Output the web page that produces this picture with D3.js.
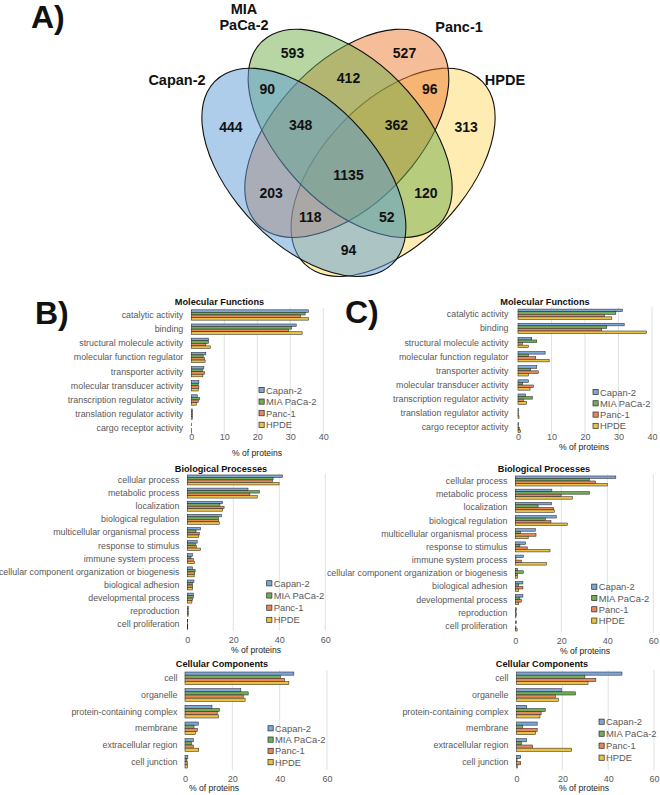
<!DOCTYPE html>
<html><head><meta charset="utf-8">
<script src="https://cdn.jsdelivr.net/npm/d3@7"></script>
<style>
body{margin:0;background:#fff;}
svg{display:block;font-family:"Liberation Sans",Arial,Helvetica,sans-serif;}
</style>
</head><body>
<script>
// ---------------- DATA ----------------
const seriesNames = ["Capan-2", "MIA PaCa-2", "Panc-1", "HPDE"];

// Venn: region keys are membership flags in the order of seriesNames
const vennKeys   = ["1000","0100","0010","0001","1100","0110","0011","1010","0101","1001","1110","0111","1011","1101","1111"];
const vennCounts = [444, 593, 527, 313, 90, 412, 96, 203, 120, 94, 348, 362, 118, 52, 1135];

const mfCats = ["catalytic activity","binding","structural molecule activity","molecular function regulator","transporter activity","molecular transducer activity","transcription regulator activity","translation regulator activity","cargo receptor activity"];
const bpCats = ["cellular process","metabolic process","localization","biological regulation","multicellular organismal process","response to stimulus","immune system process","cellular component organization or biogenesis","biological adhesion","developmental process","reproduction","cell proliferation"];
const ccCats = ["cell","organelle","protein-containing complex","membrane","extracellular region","cell junction"];

// Panel B values (% of proteins), one array per series
const mfB_capan = [35.5, 31.8, 5.2, 4.4, 3.8, 2.3, 1.8, 0.3, 0.1];
const mfB_mia   = [34.5, 30.4, 5.2, 3.6, 3.4, 2.1, 2.5, 0.3, 0.0];
const mfB_panc  = [33.1, 29.5, 4.4, 4.0, 4.0, 2.3, 2.1, 0.3, 0.1];
const mfB_hpde  = [35.5, 33.6, 5.8, 4.2, 3.5, 2.1, 1.5, 0.3, 0.1];

const bpB_capan = [41.4, 26.4, 15.4, 14.8, 5.8, 4.3, 2.3, 2.3, 2.9, 2.6, 0.4, 0.2];
const bpB_mia   = [37.3, 31.3, 14.2, 13.6, 3.8, 3.6, 1.6, 3.4, 2.2, 2.6, 0.4, 0.1];
const bpB_panc  = [37.0, 27.2, 16.0, 13.6, 5.2, 3.9, 2.6, 3.2, 2.3, 2.3, 0.4, 0.2];
const bpB_hpde  = [39.9, 30.4, 15.4, 13.9, 5.0, 5.8, 3.2, 3.0, 2.3, 2.0, 0.4, 0.2];

const ccB_capan = [46.0, 23.6, 11.4, 5.6, 3.5, 1.2];
const ccB_mia   = [40.3, 26.7, 14.5, 3.8, 2.7, 0.8];
const ccB_panc  = [42.1, 24.6, 13.6, 5.2, 3.5, 1.0];
const ccB_hpde  = [43.9, 25.4, 14.2, 4.4, 5.8, 1.0];

// Panel C values
const mfC_capan = [31.2, 31.7, 4.1, 8.1, 5.6, 3.1, 2.3, 0.2, 0.2];
const mfC_mia   = [29.2, 26.5, 5.6, 3.1, 3.8, 1.4, 4.3, 0.1, 0.1];
const mfC_panc  = [25.8, 25.0, 1.3, 5.3, 6.1, 4.6, 1.6, 0.2, 0.4];
const mfC_hpde  = [28.0, 38.3, 3.1, 9.3, 3.1, 3.6, 2.6, 0.3, 0.8];

const bpC_capan = [43.7, 15.9, 15.8, 17.8, 8.7, 4.5, 3.5, 1.0, 3.3, 3.3, 0.5, 0.5];
const bpC_mia   = [32.2, 32.2, 9.9, 13.1, 2.3, 2.0, 0.3, 3.5, 1.5, 2.0, 0.3, 0.0];
const bpC_panc  = [34.9, 19.9, 16.7, 15.5, 9.0, 5.2, 2.7, 1.0, 3.3, 2.6, 0.5, 0.3];
const bpC_hpde  = [40.0, 24.8, 17.0, 22.6, 5.6, 15.1, 13.6, 1.0, 1.5, 1.5, 0.3, 0.8];

const ccC_capan = [46.0, 19.6, 4.4, 9.0, 4.4, 1.8];
const ccC_mia   = [29.8, 25.7, 12.5, 2.7, 2.2, 0.2];
const ccC_panc  = [34.6, 16.9, 10.7, 9.0, 7.0, 1.8];
const ccC_hpde  = [31.2, 18.3, 10.2, 8.3, 24.0, 0.3];

const mfTicks = [0, 10, 20, 30, 40];
const bpTicks = [0, 20, 40, 60];
const ccTicks = [0, 20, 40, 60];
const panelTitles = ["Molecular Functions", "Biological Processes", "Cellular Components"];
const axisTitle = "% of proteins";

// ---------------- STYLE ----------------
const vennFill = ["#5B9BD5", "#70AD47", "#ED7D31", "#FFD966"];
const barFill  = ["#7EA6D6", "#6FAE57", "#E8875A", "#E9C144"];
const gray = "#595959";

const W = 660, H = 795;
const svg = d3.select("body").append("svg").attr("width", W).attr("height", H);

// ---------------- VENN ----------------
const sx = 1 / 2.376, sy = 1 / 3;
const ellA = 350, ellB = 184;
const ell = [
  {cx: 722, cy: 517, rot: 58},   // Capan-2
  {cx: 832, cy: 400, rot: 58},   // MIA PaCa-2
  {cx: 824, cy: 400, rot: -58},  // Panc-1
  {cx: 934, cy: 517, rot: -58}   // HPDE
];
const vg = svg.append("g").attr("transform", `scale(${sx},${sy})`);
[3, 2, 1, 0].forEach(i => {
  const e = ell[i];
  vg.append("ellipse")
    .attr("rx", ellA).attr("ry", ellB)
    .attr("transform", `translate(${e.cx},${e.cy}) rotate(${e.rot})`)
    .attr("fill", vennFill[i]).attr("fill-opacity", 0.5)
    .attr("stroke", "#111").attr("stroke-width", 1.1)
    .attr("vector-effect", "non-scaling-stroke");
});

function inside(i, px, py) {
  const e = ell[i];
  const X = px / sx, Y = py / sy;
  const t = e.rot * Math.PI / 180;
  const dx = X - e.cx, dy = Y - e.cy;
  const u = dx * Math.cos(t) + dy * Math.sin(t);
  const v = -dx * Math.sin(t) + dy * Math.cos(t);
  return (u * u) / (ellA * ellA) + (v * v) / (ellB * ellB) <= 1;
}
// label positions: pole of inaccessibility of each region (grid distance transform)
const gx0 = 150, gy0 = 0, GW = 400, GH = 300;
const maskGrid = new Array(GW * GH);
for (let j = 0; j < GH; j++) for (let i = 0; i < GW; i++) {
  const px = gx0 + i + 0.5, py = gy0 + j + 0.5;
  maskGrid[j * GW + i] = [0,1,2,3].map(k => inside(k, px, py) ? "1" : "0").join("");
}
function pole(key) {
  const D = new Float32Array(GW * GH);
  const INF = 1e9;
  for (let k = 0; k < GW * GH; k++) D[k] = maskGrid[k] === key ? INF : 0;
  const d1 = 1, d2 = Math.SQRT2;
  for (let j = 0; j < GH; j++) for (let i = 0; i < GW; i++) {
    const k = j * GW + i; if (!D[k]) continue;
    let m = D[k];
    if (i > 0) m = Math.min(m, D[k - 1] + d1); else m = Math.min(m, 1);
    if (j > 0) { m = Math.min(m, D[k - GW] + d1);
      if (i > 0) m = Math.min(m, D[k - GW - 1] + d2);
      if (i < GW - 1) m = Math.min(m, D[k - GW + 1] + d2); } else m = Math.min(m, 1);
    D[k] = m;
  }
  for (let j = GH - 1; j >= 0; j--) for (let i = GW - 1; i >= 0; i--) {
    const k = j * GW + i; if (!D[k]) continue;
    let m = D[k];
    if (i < GW - 1) m = Math.min(m, D[k + 1] + d1);
    if (j < GH - 1) { m = Math.min(m, D[k + GW] + d1);
      if (i < GW - 1) m = Math.min(m, D[k + GW + 1] + d2);
      if (i > 0) m = Math.min(m, D[k + GW - 1] + d2); }
    D[k] = m;
  }
  let mx = 0; for (let k = 0; k < GW * GH; k++) if (D[k] > mx) mx = D[k];
  let sxs = 0, sys = 0, n = 0;
  for (let j = 0; j < GH; j++) for (let i = 0; i < GW; i++) {
    if (D[j * GW + i] >= mx - 1.5) { sxs += gx0 + i + 0.5; sys += gy0 + j + 0.5; n++; }
  }
  return [sxs / n, sys / n];
}
vennKeys.forEach((key, idx) => {
  const [px, py] = pole(key);
  svg.append("text").attr("x", px).attr("y", py)
    .attr("text-anchor", "middle").attr("dominant-baseline", "central")
    .attr("font-size", 14).attr("font-weight", "bold").attr("fill", "#111")
    .text(vennCounts[idx]);
});
// set labels
const setLabelPos = [
  {x: 177, y: 80, lines: [seriesNames[0]]},
  {x: 244, y: 8.5, lines: ["MIA", "PaCa-2"]},
  {x: 459, y: 27, lines: [seriesNames[2]]},
  {x: 505, y: 80, lines: [seriesNames[3]]}
];
setLabelPos.forEach(p => {
  const t = svg.append("text").attr("text-anchor", "middle")
    .attr("font-size", 14.5).attr("font-weight", "bold").attr("fill", "#111");
  p.lines.forEach((ln, k) => t.append("tspan").attr("x", p.x).attr("y", p.y + k * 16.7)
      .attr("dominant-baseline", "central").text(ln));
});

// panel letters
[["A)", 31, 28], ["B)", 35, 324], ["C)", 345, 323]].forEach(([s, x, y]) =>
  svg.append("text").attr("x", x).attr("y", y).attr("font-size", 32)
    .attr("font-weight", "bold").attr("fill", "#111").text(s));

// ---------------- BAR PANELS ----------------
function barPanel(o) {
  const g = svg.append("g");
  const x = d3.scaleLinear().domain([0, o.max]).range([o.x0, o.x1]);
  const y = d3.scaleBand().domain(o.cats).range([o.top, o.bottom]).paddingInner(o.pad).paddingOuter(o.pad / 2);
  const ys = d3.scaleBand().domain(seriesNames).range([0, y.bandwidth()]);
  // grid
  g.selectAll("line.grid").data(o.ticks.filter(t => t > 0)).join("line")
    .attr("x1", d => x(d)).attr("x2", d => x(d))
    .attr("y1", o.top).attr("y2", o.bottom)
    .attr("stroke", "#d9d9d9").attr("stroke-width", 0.8);
  // tick labels via axis
  const ax = g.append("g").attr("transform", `translate(0,${o.tickY})`)
    .call(d3.axisBottom(x).tickValues(o.ticks).tickSize(0).tickPadding(0));
  ax.select(".domain").remove();
  ax.selectAll("text").attr("font-size", 9).attr("fill", gray)
    .attr("font-family", "Liberation Sans, Arial, sans-serif")
    .attr("dy", "0.35em").attr("y", 0);
  // axis title
  g.append("text").attr("x", o.axTitleX).attr("y", o.axTitleY)
    .attr("text-anchor", "middle").attr("dominant-baseline", "central")
    .attr("font-size", 8.6).attr("fill", "#222").text(axisTitle);
  // title
  g.append("text").attr("x", o.titleX).attr("y", o.titleY)
    .attr("text-anchor", "middle").attr("dominant-baseline", "central")
    .attr("font-size", 9.2).attr("font-weight", "bold").attr("fill", "#111").text(o.title);
  // category labels
  g.selectAll("text.cat").data(o.cats).join("text")
    .attr("x", o.labelX).attr("y", d => y(d) + y.bandwidth() / 2)
    .attr("text-anchor", "end").attr("dominant-baseline", "central")
    .attr("font-size", 8.9).attr("fill", gray).text(d => d);
  // bars
  o.series.forEach((vals, si) => {
    g.selectAll(null).data(vals).join("rect")
      .attr("x", x(0))
      .attr("y", (d, i) => y(o.cats[i]) + ys(seriesNames[si]))
      .attr("width", d => Math.max(0, x(d) - x(0)))
      .attr("height", ys.bandwidth())
      .attr("fill", barFill[si]).attr("stroke", "#2a2a2a").attr("stroke-width", 0.55);
  });
  // legend
  seriesNames.forEach((s, si) => {
    const ly = o.legY + si * o.legStep;
    g.append("rect").attr("x", o.legX).attr("y", ly - 2.6).attr("width", 5.2).attr("height", 5.2)
      .attr("fill", barFill[si]).attr("stroke", "#2a2a2a").attr("stroke-width", 0.7);
    g.append("text").attr("x", o.legX + 7).attr("y", ly).attr("dominant-baseline", "central")
      .attr("font-size", 9.4).attr("fill", gray).text(s);
  });
}

barPanel({cats: mfCats, series: [mfB_capan, mfB_mia, mfB_panc, mfB_hpde], max: 40, ticks: mfTicks,
  x0: 191.3, x1: 323.3, top: 307.9, bottom: 435.4, pad: 0.27, labelX: 183.3,
  title: panelTitles[0], titleX: 219.5, titleY: 302, tickY: 436.5, axTitleX: 257, axTitleY: 453.3,
  legX: 259, legY: 390, legStep: 11.6});
barPanel({cats: mfCats, series: [mfC_capan, mfC_mia, mfC_panc, mfC_hpde], max: 40, ticks: mfTicks,
  x0: 518, x1: 652, top: 307.2, bottom: 434.5, pad: 0.27, labelX: 508.5,
  title: panelTitles[0], titleX: 545, titleY: 301.7, tickY: 437, axTitleX: 584, axTitleY: 447,
  legX: 593, legY: 392, legStep: 11.3});
barPanel({cats: bpCats, series: [bpB_capan, bpB_mia, bpB_panc, bpB_hpde], max: 60, ticks: bpTicks,
  x0: 187.3, x1: 325.3, top: 473.4, bottom: 630.9, pad: 0.24, labelX: 179.5,
  title: panelTitles[1], titleX: 221, titleY: 469, tickY: 639.5, axTitleX: 256, axTitleY: 650,
  legX: 266.7, legY: 583.3, legStep: 12.2});
barPanel({cats: bpCats, series: [bpC_capan, bpC_mia, bpC_panc, bpC_hpde], max: 60, ticks: bpTicks,
  x0: 515.3, x1: 653.3, top: 474.4, bottom: 632.6, pad: 0.24, labelX: 507.5,
  title: panelTitles[1], titleX: 544, titleY: 469, tickY: 641, axTitleX: 585, axTitleY: 651,
  legX: 591.7, legY: 586.7, legStep: 11.3});
barPanel({cats: ccCats, series: [ccB_capan, ccB_mia, ccB_panc, ccB_hpde], max: 60, ticks: ccTicks,
  x0: 185, x1: 327, top: 670, bottom: 770, pad: 0.24, labelX: 177.5,
  title: panelTitles[2], titleX: 222, titleY: 664, tickY: 779.3, axTitleX: 214, axTitleY: 788.3,
  legX: 268, legY: 728.3, legStep: 11.3});
barPanel({cats: ccCats, series: [ccC_capan, ccC_mia, ccC_panc, ccC_hpde], max: 60, ticks: ccTicks,
  x0: 516.6, x1: 654, top: 670, bottom: 770, pad: 0.24, labelX: 508.5,
  title: panelTitles[2], titleX: 542, titleY: 664, tickY: 779.3, axTitleX: 584, axTitleY: 788.3,
  legX: 599, legY: 721.7, legStep: 12});
</script>
</body></html>
